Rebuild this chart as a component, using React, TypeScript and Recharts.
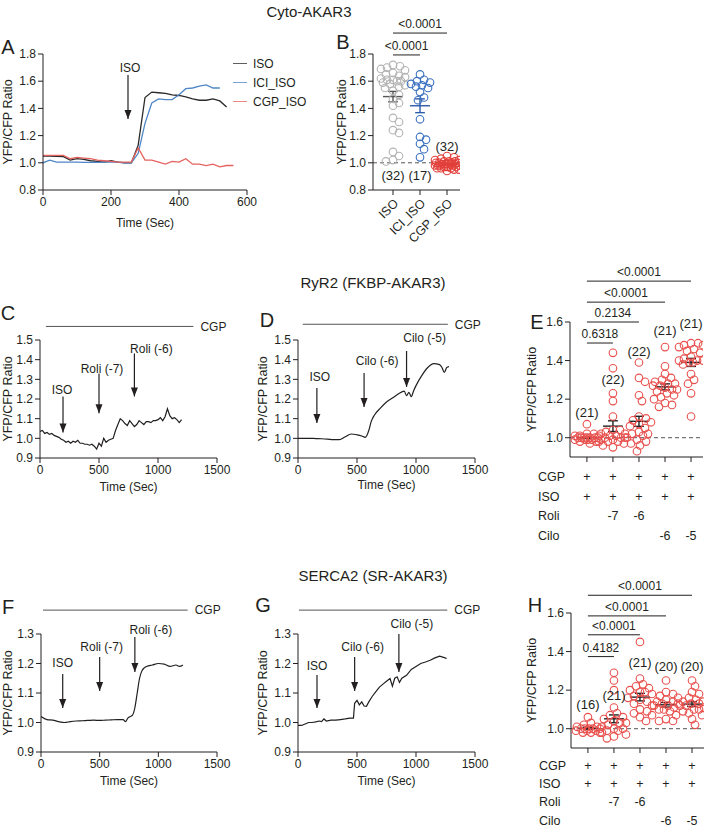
import React from 'react';
import {
  LineChart, Line, ScatterChart, Scatter, XAxis, YAxis,
  ReferenceLine, ReferenceDot, Legend,
} from 'recharts';

const FONT = 'Arial, "Liberation Sans", Helvetica, sans-serif';
const INK = '#231f20';
const RED = '#e8504d';
const Y_W = 48;

// ---------- A: Cyto-AKAR3 time course ----------
const aTime = [0, 20, 40, 60, 80, 100, 120, 140, 160, 180, 200, 220, 240, 260, 280, 300, 320, 340, 360, 380, 400, 420, 440, 460, 480, 500, 520, 540, 560];
const aIso = [1.05, 1.05, 1.048, 1.045, 1.02, 1.03, 1.025, 1.015, 1.01, 1.005, 1.015, 1.005, 1.0, 1.0, 1.13, 1.48, 1.52, 1.515, 1.51, 1.5, 1.495, 1.485, 1.47, 1.46, 1.46, 1.47, 1.455, 1.41, null];
const aIci = [1.0, 1.02, 1.005, 1.005, 1.005, 1.005, 1.003, 1.003, 1.003, 1.005, 1.007, 1.005, 1.0, 1.0, 1.07, 1.29, 1.44, 1.47, 1.465, 1.465, 1.5, 1.545, 1.55, 1.563, 1.573, 1.55, 1.55, null, null];
const aCgp = [1.055, 1.055, 1.055, 1.055, 1.03, 1.04, 1.035, 1.03, 1.02, 1.015, 1.01, 1.005, 1.005, 1.005, 1.11, 1.02, 1.02, 1.005, 0.99, 1.01, 1.005, 1.03, 0.99, 0.99, 0.98, 0.99, 0.97, 0.98, 0.98];
const aNames = ['ISO', 'ICI_ISO', 'CGP_ISO'];
const aColors = ['#2a2a2a', '#4f86c6', '#e5625e'];

// ---------- B: Cyto-AKAR3 summary ----------
const bGroups = ['ISO', 'ICI_ISO', 'CGP_ISO'];
const bIso = [1.72, 1.71, 1.70, 1.69, 1.68, 1.66, 1.65, 1.64, 1.63, 1.62, 1.61, 1.61, 1.60, 1.60, 1.59, 1.58, 1.57, 1.56, 1.55, 1.53, 1.50, 1.47, 1.44, 1.42, 1.33, 1.30, 1.24, 1.22, 1.08, 1.05, 1.02, 1.01];
const bIci = [1.65, 1.61, 1.60, 1.59, 1.58, 1.57, 1.56, 1.55, 1.52, 1.48, 1.46, 1.32, 1.19, 1.17, 1.14, 1.10, 1.04];
const bCgp = [1.05, 1.04, 1.03, 1.02, 1.02, 1.01, 1.01, 1.01, 1.00, 1.00, 1.00, 1.00, 0.99, 0.99, 0.99, 0.99, 0.99, 0.98, 0.98, 0.98, 0.98, 0.98, 0.97, 0.97, 0.97, 0.97, 0.96, 0.96, 0.96, 0.95, 0.95, 0.94];
const bPvals = ['<0.0001', '<0.0001'];

// ---------- C, D: RyR2 (FKBP-AKAR3) traces ----------
const cTime = [0, 20, 40, 60, 80, 100, 120, 140, 160, 180, 200, 220, 240, 260, 280, 300, 320, 340, 360, 380, 400, 420, 440, 460, 480, 500, 520, 540, 560, 580, 600, 620, 640, 660, 680, 700, 720, 740, 760, 780, 800, 820, 840, 860, 880, 900, 920, 940, 960, 980, 1000, 1020, 1040, 1060, 1080, 1100, 1120, 1140, 1160, 1180, 1200];
const cRatio = [1.035, 1.04, 1.025, 1.03, 1.02, 1.025, 1.015, 1.01, 1.005, 0.995, 0.99, 0.98, 0.985, 0.975, 0.985, 0.98, 0.99, 0.975, 0.975, 0.97, 0.97, 0.965, 0.97, 0.96, 0.945, 0.975, 0.96, 1.0, 0.98, 0.99, 0.995, 1.0, 1.04, 1.07, 1.10, 1.09, 1.075, 1.065, 1.09, 1.075, 1.06, 1.07, 1.09, 1.08, 1.07, 1.085, 1.085, 1.08, 1.09, 1.09, 1.095, 1.105, 1.09, 1.11, 1.15, 1.115, 1.1, 1.105, 1.095, 1.08, 1.095];
const dTime = [0, 50, 100, 150, 200, 250, 300, 350, 400, 450, 500, 540, 570, 600, 620, 650, 700, 750, 800, 850, 900, 920, 940, 960, 980, 1000, 1050, 1100, 1150, 1200, 1220, 1240, 1260, 1280];
const dRatio = [1.0, 1.0, 1.0, 0.999, 0.998, 0.996, 0.993, 0.993, 1.008, 1.022, 1.018, 1.012, 1.005, 1.04, 1.085, 1.12, 1.155, 1.185, 1.205, 1.225, 1.24, 1.217, 1.234, 1.212, 1.242, 1.268, 1.32, 1.36, 1.38, 1.375, 1.36, 1.335, 1.36, 1.365];

// ---------- F, G: SERCA2 (SR-AKAR3) traces ----------
const fTime = [0, 50, 100, 150, 200, 250, 300, 350, 400, 450, 500, 550, 600, 650, 700, 720, 740, 760, 780, 800, 820, 840, 860, 880, 900, 950, 1000, 1050, 1100, 1150, 1180, 1210];
const fRatio = [1.02, 1.01, 1.008, 1.003, 1.0, 1.003, 1.005, 1.006, 1.007, 1.008, 1.007, 1.008, 1.009, 1.01, 1.01, 1.003, 1.015, 1.02, 1.025, 1.05, 1.10, 1.15, 1.175, 1.185, 1.19, 1.195, 1.2, 1.198, 1.19, 1.195, 1.19, 1.195];
const gTime = [0, 30, 60, 90, 120, 150, 180, 200, 220, 240, 280, 320, 360, 400, 440, 470, 480, 500, 520, 540, 560, 580, 600, 630, 660, 690, 720, 750, 780, 800, 820, 840, 860, 880, 920, 960, 1000, 1040, 1080, 1120, 1160, 1200, 1240, 1260];
const gRatio = [0.99, 0.99, 0.995, 1.0, 1.0, 1.002, 1.005, 1.003, 1.012, 1.005, 1.008, 1.008, 1.01, 1.012, 1.015, 1.015, 1.065, 1.075, 1.06, 1.07, 1.056, 1.055, 1.07, 1.089, 1.105, 1.12, 1.13, 1.14, 1.149, 1.123, 1.15, 1.155, 1.136, 1.15, 1.16, 1.18, 1.19, 1.2, 1.205, 1.211, 1.219, 1.225, 1.22, 1.217];

// ---------- E, H: summaries ----------
const treatRows = ['CGP', 'ISO', 'Roli', 'Cilo'];
const treatCols = [['+', '+', '', ''], ['+', '+', '-7', ''], ['+', '+', '-6', ''], ['+', '+', '', '-6'], ['+', '+', '', '-5']];
const eGroups = [
  [1.07, 1.02, 1.02, 1.01, 1.01, 1.01, 1.00, 1.00, 1.00, 1.00, 1.00, 1.00, 1.00, 0.99, 0.99, 0.99, 0.99, 0.98, 0.98, 0.98, 0.97],
  [1.44, 1.36, 1.23, 1.19, 1.11, 1.04, 1.04, 1.03, 1.02, 1.02, 1.01, 1.01, 1.00, 1.00, 1.00, 0.99, 0.99, 0.98, 0.98, 0.97, 0.96, 0.95],
  [1.39, 1.31, 1.29, 1.22, 1.19, 1.11, 1.10, 1.09, 1.08, 1.07, 1.06, 1.05, 1.03, 1.02, 1.02, 1.01, 1.00, 0.99, 0.98, 0.97, 0.96, 0.93],
  [1.47, 1.37, 1.33, 1.31, 1.30, 1.29, 1.28, 1.28, 1.27, 1.27, 1.26, 1.25, 1.25, 1.24, 1.23, 1.22, 1.21, 1.20, 1.18, 1.17, 1.16],
  [1.49, 1.49, 1.48, 1.48, 1.47, 1.46, 1.45, 1.44, 1.42, 1.41, 1.40, 1.40, 1.40, 1.39, 1.39, 1.38, 1.33, 1.30, 1.28, 1.23, 1.11],
];
const ePvals = ['0.6318', '0.2134', '<0.0001', '<0.0001'];
const hGroups = [
  [1.06, 1.03, 1.02, 1.01, 1.01, 1.00, 1.00, 1.00, 1.00, 1.00, 0.99, 0.99, 0.99, 0.98, 0.98, 0.98],
  [1.29, 1.25, 1.20, 1.11, 1.08, 1.07, 1.06, 1.05, 1.04, 1.03, 1.03, 1.02, 1.01, 1.00, 1.00, 0.99, 0.99, 0.98, 0.97, 0.96, 0.95],
  [1.45, 1.26, 1.23, 1.22, 1.21, 1.20, 1.19, 1.19, 1.18, 1.17, 1.16, 1.15, 1.14, 1.13, 1.12, 1.10, 1.09, 1.08, 1.07, 1.06, 1.04],
  [1.25, 1.19, 1.18, 1.17, 1.16, 1.15, 1.14, 1.14, 1.13, 1.13, 1.12, 1.12, 1.11, 1.10, 1.10, 1.09, 1.07, 1.05, 1.04, 1.04],
  [1.25, 1.22, 1.19, 1.18, 1.16, 1.15, 1.14, 1.14, 1.13, 1.13, 1.12, 1.12, 1.11, 1.10, 1.10, 1.09, 1.08, 1.07, 1.05, 1.02],
];
const hPvals = ['0.4182', '<0.0001', '<0.0001', '<0.0001'];

// ---------- annotation placement (drug additions, bars, labels) ----------
const aArrows = [{ t: 250, label: 'ISO', top: 1.646, tip: 1.322, textY: 1.697, dx: 2 }];
const cArrows = [
  { t: 195, label: 'ISO', top: 1.213, tip: 1.03, textY: 1.249, dx: -1 },
  { t: 500, label: 'Roli (-7)', top: 1.33, tip: 1.127, textY: 1.355, dx: 3 },
  { t: 800, label: 'Roli (-6)', top: 1.431, tip: 1.213, textY: 1.457, dx: 17 },
];
const dArrows = [
  { t: 160, label: 'ISO', top: 1.256, tip: 1.078, textY: 1.312, dx: 3 },
  { t: 560, label: 'Cilo (-6)', top: 1.332, tip: 1.159, textY: 1.393, dx: 13 },
  { t: 920, label: 'Cilo (-5)', top: 1.444, tip: 1.261, textY: 1.51, dx: 18 },
];
const fArrows = [
  { t: 185, label: 'ISO', top: 1.164, tip: 1.049, textY: 1.202, dx: 0 },
  { t: 500, label: 'Roli (-7)', top: 1.222, tip: 1.107, textY: 1.256, dx: 2 },
  { t: 800, label: 'Roli (-6)', top: 1.29, tip: 1.171, textY: 1.314, dx: 16 },
];
const gArrows = [
  { t: 161, label: 'ISO', top: 1.161, tip: 1.049, textY: 1.192, dx: 0 },
  { t: 480, label: 'Cilo (-6)', top: 1.222, tip: 1.107, textY: 1.256, dx: 8 },
  { t: 855, label: 'Cilo (-5)', top: 1.3, tip: 1.171, textY: 1.334, dx: 13 },
];

// ---------- helpers ----------
const tick = { fontSize: 12, fill: INK, fontFamily: FONT };
const fmt1 = (v: number) => v.toFixed(1);

function yAxisFor(domain: number[], ticks: number[], gap: number, key = 'v') {
  return (
    <YAxis type="number" dataKey={key} domain={domain} ticks={ticks} interval={0} width={Y_W}
      allowDataOverflow axisLine={{ stroke: INK }} tickLine={{ stroke: INK }} tickSize={5}
      tick={tick} tickFormatter={fmt1}
      label={{
        value: 'YFP/CFP Ratio', angle: -90, position: 'insideLeft', offset: Y_W - gap,
        style: { textAnchor: 'middle', fontSize: 12.5, fill: INK, fontFamily: FONT },
      }} />
  );
}

const textAt = (label: string, dx = 0, size = 12) => (p: any) => (
  <text x={p.cx + dx} y={p.cy} dy="0.35em" textAnchor="middle" fontSize={size} fontFamily={FONT} fill={INK}>{label}</text>
);

const arrowHead = (p: any) => (
  <path d={`M${p.cx - 3.5},${p.cy - 9}L${p.cx + 3.5},${p.cy - 9}L${p.cx},${p.cy}Z`} fill={INK} />
);

const ring = (color: string) => (p: any) => (
  <circle cx={p.cx} cy={p.cy} r={3.8} fill="none" stroke={color} strokeWidth={1.1} />
);

function arrowMarks(arrows: any[], key: string) {
  return arrows.flatMap((a, i) => [
    <ReferenceLine key={`${key}s${i}`} segment={[{ x: a.t, y: a.top }, { x: a.t, y: a.tip }]}
      stroke={INK} strokeWidth={1.2} ifOverflow="visible" />,
    <ReferenceDot key={`${key}h${i}`} x={a.t} y={a.tip} r={4} ifOverflow="visible" shape={arrowHead} />,
    <ReferenceDot key={`${key}t${i}`} x={a.t} y={a.textY} r={4} ifOverflow="visible" shape={textAt(a.label, a.dx)} />,
  ]);
}

// simple deterministic beeswarm: horizontal offsets so rings don't pile up
function swarm(values: number[], pxY: number, pxX: number, minDist = 6.5, maxOff = 12) {
  const placed: { dx: number; py: number }[] = [];
  return values.map((v) => {
    const py = v * pxY;
    let best = 0;
    let bestD = -1;
    for (let k = 0; k <= maxOff * 2; k++) {
      const dx = k % 2 ? (k + 1) / 2 : -k / 2;
      let d = Infinity;
      for (const p of placed) d = Math.min(d, Math.hypot(p.dx - dx, p.py - py));
      if (d >= minDist) { best = dx; break; }
      if (d > bestD) { bestD = d; best = dx; }
    }
    placed.push({ dx: best, py });
    return best / pxX;
  });
}

function meanMarks(groups: number[][], colors: string[], halfW: number, capW: number, key: string) {
  return groups.flatMap((v, i) => {
    const m = v.reduce((a, b) => a + b, 0) / v.length;
    const sd = Math.sqrt(v.reduce((a, b) => a + (b - m) ** 2, 0) / (v.length - 1));
    const se = sd / Math.sqrt(v.length);
    const seg = (x1: number, y1: number, x2: number, y2: number, k: string) => (
      <ReferenceLine key={`${key}${i}${k}`} segment={[{ x: x1, y: y1 }, { x: x2, y: y2 }]}
        stroke={colors[i]} strokeWidth={1.4} ifOverflow="visible" />
    );
    return [
      seg(i - halfW, m, i + halfW, m, 'm'),
      seg(i, m - se, i, m + se, 'e'),
      seg(i - capW, m + se, i + capW, m + se, 'u'),
      seg(i - capW, m - se, i + capW, m - se, 'd'),
    ];
  });
}

function sigMarks(pvals: string[], ys: number[], key: string) {
  return pvals.map((p, i) => (
    <ReferenceLine key={`${key}${i}`} segment={[{ x: 0, y: ys[i] }, { x: i + 1, y: ys[i] }]}
      stroke={INK} strokeWidth={1} ifOverflow="visible"
      label={{ value: p, position: 'top', offset: 5, fontSize: 12, fill: INK, fontFamily: FONT }} />
  ));
}

function nMarks(groups: number[][], ys: number[], key: string) {
  return groups.map((g, i) => (
    <ReferenceDot key={`${key}${i}`} x={i} y={ys[i]} r={3} ifOverflow="visible" shape={textAt(`(${g.length})`, 0, 13)} />
  ));
}

const Tag = ({ x, y, size, children }: any) => (
  <div style={{
    position: 'absolute', left: x, top: y, transform: 'translate(-50%, -50%)', fontSize: size,
    lineHeight: 1, whiteSpace: 'nowrap', fontFamily: FONT, color: INK,
  }}>{children}</div>
);

// ---------- panels ----------
function PanelA() {
  const left = 43, top = 54, w = 204, h = 136, mt = 30, mr = 80, xh = 45;
  const rows = aTime.map((t, i) => ({ t, iso: aIso[i], ici: aIci[i], cgp: aCgp[i] }));
  const keys = ['iso', 'ici', 'cgp'];
  return (
    <div style={{ position: 'absolute', left: left - Y_W, top: top - mt }}>
      <LineChart width={Y_W + w + mr} height={mt + h + xh} data={rows} margin={{ top: mt, right: mr, bottom: 0, left: 0 }}>
        <XAxis type="number" dataKey="t" domain={[0, 600]} ticks={[0, 200, 400, 600]} interval={0} height={xh}
          allowDataOverflow axisLine={{ stroke: INK }} tickLine={{ stroke: INK }} tickSize={5} tick={tick}
          label={{ value: 'Time (Sec)', position: 'insideBottom', offset: xh - 37, style: { fontSize: 12, fill: INK, fontFamily: FONT } }} />
        {yAxisFor([0.8, 1.8], [0.8, 1.0, 1.2, 1.4, 1.6, 1.8], 35, 'iso')}
        {keys.map((k, i) => (
          <Line key={k} type="linear" dataKey={k} name={aNames[i]} stroke={aColors[i]} strokeWidth={1.3}
            dot={false} legendType="plainline" isAnimationActive={false} />
        ))}
        {arrowMarks(aArrows, 'aa')}
        <Legend layout="vertical" align="center" verticalAlign="middle"
          wrapperStyle={{ left: 238, top: 30, width: 90 }}
          content={(props: any) => {
            const items = [...(props.payload || [])].sort(
              (a: any, b: any) => aNames.indexOf(a.value) - aNames.indexOf(b.value));
            return (
              <div>
                {items.map((e: any) => (
                  <div key={e.value} style={{ display: 'flex', alignItems: 'center', height: 19, fontSize: 12, fontFamily: FONT, color: INK }}>
                    <span style={{ display: 'inline-block', width: 14, borderTop: `1.3px solid ${e.color}`, opacity: 0.75, marginRight: 6 }} />
                    {e.value}
                  </div>
                ))}
              </div>
            );
          }} />
      </LineChart>
    </div>
  );
}

function PanelB() {
  const left = 373, top = 54, w = 87, h = 136, mt = 50, mr = 10, xh = 60;
  const groups = [bIso, bIci, bCgp];
  const ringColors = ['#b3b3b3', '#3a70c0', '#e3403b'];
  const meanColors = ['#555555', '#2a5caa', '#b02a26'];
  const rotTick = (p: any) => {
    const ax = p.x + 3, ay = p.y + 4;
    return (
      <text x={ax} y={ay} dy="0.35em" textAnchor="end" transform={`rotate(-45 ${ax} ${ay})`}
        fontSize={12.5} fontFamily={FONT} fill={INK}>{bGroups[p.payload.value]}</text>
    );
  };
  return (
    <div style={{ position: 'absolute', left: left - Y_W, top: top - mt }}>
      <ScatterChart width={Y_W + w + mr} height={mt + h + xh} margin={{ top: mt, right: mr, bottom: 0, left: 0 }}>
        <XAxis type="number" dataKey="x" domain={[-0.74, 2.48]} ticks={[0, 1, 2]} interval={0} height={xh}
          allowDataOverflow axisLine={{ stroke: INK }} tickLine={{ stroke: INK }} tickSize={5} tick={rotTick} />
        {yAxisFor([0.8, 1.8], [0.8, 1.0, 1.2, 1.4, 1.6, 1.8], 31, 'y')}
        <ReferenceLine y={1} stroke="#555" strokeDasharray="4 3" />
        {groups.map((vals, i) => {
          const off = swarm(vals, 136, 27);
          return (
            <Scatter key={i} data={vals.map((y, j) => ({ x: i + off[j], y }))} shape={ring(ringColors[i])} isAnimationActive={false} />
          );
        })}
        {meanMarks(groups, meanColors, 0.37, 0.18, 'bm')}
        {sigMarks(bPvals, [1.793, 1.954], 'bs')}
        {nMarks(groups, [0.91, 0.91, 1.12], 'bn')}
      </ScatterChart>
    </div>
  );
}

function TracePanel({ left, top, w, h, yDomain, yTicks, times, ratio, curve, arrows, cgp, yGap, xGap, id }: any) {
  const mt = 50, mr = 45, xh = 45;
  const data = times.map((t: number, i: number) => ({ t, v: ratio[i] }));
  return (
    <div style={{ position: 'absolute', left: left - Y_W, top: top - mt }}>
      <LineChart width={Y_W + w + mr} height={mt + h + xh} data={data} margin={{ top: mt, right: mr, bottom: 0, left: 0 }}>
        <XAxis type="number" dataKey="t" domain={[0, 1500]} ticks={[0, 500, 1000, 1500]} interval={0} height={xh}
          allowDataOverflow axisLine={{ stroke: INK }} tickLine={{ stroke: INK }} tickSize={5} tick={tick}
          label={{ value: 'Time (Sec)', position: 'insideBottom', offset: xh - xGap - 4, style: { fontSize: 12, fill: INK, fontFamily: FONT } }} />
        {yAxisFor(yDomain, yTicks, yGap)}
        <Line type={curve} dataKey="v" stroke={INK} strokeWidth={1.2} dot={false} isAnimationActive={false} />
        <ReferenceLine segment={[{ x: cgp.from, y: cgp.y }, { x: cgp.to, y: cgp.y }]} stroke="#555" strokeWidth={1}
          ifOverflow="visible" label={{ value: 'CGP', position: 'right', offset: 7, fontSize: 12, fill: INK, fontFamily: FONT }} />
        {arrowMarks(arrows, id)}
      </LineChart>
    </div>
  );
}

function DotPanel({ left, top, groups, pvals, sigY, nY, yGap, rowStart, rowStep, id }: any) {
  const w = 133, h = 135, mt = 62, mr = 6, xh = 92;
  const tableTick = (p: any) => {
    const col = treatCols[p.payload.value] || [];
    return (
      <g>
        {col.map((c: string, r: number) => (
          <text key={r} x={p.x} y={p.y + rowStart + r * rowStep} dy="0.35em" textAnchor="middle" fontSize={12.5} fontFamily={FONT} fill={INK}>{c}</text>
        ))}
        {p.payload.value === 0 && treatRows.map((r, i) => (
          <text key={`l${i}`} x={p.x - 49} y={p.y + rowStart + i * rowStep} dy="0.35em" textAnchor="start" fontSize={12.5} fontFamily={FONT} fill={INK}>{r}</text>
        ))}
      </g>
    );
  };
  return (
    <div style={{ position: 'absolute', left: left - Y_W, top: top - mt }}>
      <ScatterChart width={Y_W + w + mr} height={mt + h + xh} margin={{ top: mt, right: mr, bottom: 0, left: 0 }}>
        <XAxis type="number" dataKey="x" domain={[-0.65, 4.46]} ticks={[0, 1, 2, 3, 4]} interval={0} height={xh}
          allowDataOverflow axisLine={{ stroke: INK }} tickLine={{ stroke: INK }} tickSize={5} tick={tableTick} />
        {yAxisFor([0.9, 1.6], [1.0, 1.2, 1.4, 1.6], yGap, 'y')}
        <ReferenceLine y={1} stroke="#555" strokeDasharray="4 3" />
        {groups.map((vals: number[], i: number) => {
          const off = swarm(vals, 193, 26);
          return (
            <Scatter key={i} data={vals.map((y, j) => ({ x: i + off[j], y }))} shape={ring(RED)} isAnimationActive={false} />
          );
        })}
        {meanMarks(groups, ['#222', '#222', '#222', '#222', '#222'], 0.38, 0.19, `${id}m`)}
        {sigMarks(pvals, sigY, `${id}s`)}
        {nMarks(groups, nY, `${id}n`)}
      </ScatterChart>
    </div>
  );
}

export default function App() {
  return (
    <div style={{ position: 'absolute', left: 0, top: 0, width: 710, height: 830, overflow: 'hidden', background: '#fff', fontFamily: FONT, color: INK }}>
      <Tag x={309} y={11} size={15}>Cyto-AKAR3</Tag>
      <Tag x={373} y={282} size={15}>RyR2 (FKBP-AKAR3)</Tag>
      <Tag x={373} y={575} size={15}>SERCA2 (SR-AKAR3)</Tag>

      <PanelA />
      <PanelB />
      <TracePanel id="c" left={40} top={340} w={177} h={118} yDomain={[0.9, 1.5]} yTicks={[0.9, 1.0, 1.1, 1.2, 1.3, 1.4, 1.5]}
        times={cTime} ratio={cRatio} curve="linear" arrows={cArrows} cgp={{ from: 50, to: 1300, y: 1.569 }} yGap={32} xGap={29} />
      <TracePanel id="d" left={298} top={340} w={177} h={118} yDomain={[0.9, 1.5]} yTicks={[0.9, 1.0, 1.1, 1.2, 1.3, 1.4, 1.5]}
        times={dTime} ratio={dRatio} curve="monotone" arrows={dArrows} cgp={{ from: 40, to: 1270, y: 1.58 }} yGap={35} xGap={27} />
      <DotPanel id="e" left={570} top={322} groups={eGroups} pvals={ePvals} sigY={[1.491, 1.6, 1.703, 1.812]}
        nY={[1.133, 1.304, 1.449, 1.558, 1.594]} yGap={38} rowStart={12.5} rowStep={19.7} />
      <TracePanel id="f" left={41} top={634} w={176} h={118} yDomain={[0.9, 1.3]} yTicks={[0.9, 1.0, 1.1, 1.2, 1.3]}
        times={fTime} ratio={fRatio} curve="monotone" arrows={fArrows} cgp={{ from: 17, to: 1250, y: 1.381 }} yGap={33} xGap={29} />
      <TracePanel id="g" left={298} top={634} w={177} h={118} yDomain={[0.9, 1.3]} yTicks={[0.9, 1.0, 1.1, 1.2, 1.3]}
        times={gTime} ratio={gRatio} curve="linear" arrows={gArrows} cgp={{ from: 8, to: 1265, y: 1.381 }} yGap={35} xGap={29} />
      <DotPanel id="h" left={571} top={613} groups={hGroups} pvals={hPvals} sigY={[1.374, 1.487, 1.585, 1.692]}
        nY={[1.128, 1.174, 1.344, 1.323, 1.323]} yGap={39} rowStart={10.5} rowStep={18.3} />

      <Tag x={8} y={47} size={20}>A</Tag>
      <Tag x={343} y={42} size={20}>B</Tag>
      <Tag x={8} y={313} size={20}>C</Tag>
      <Tag x={267} y={320} size={20}>D</Tag>
      <Tag x={537} y={322} size={20}>E</Tag>
      <Tag x={8} y={607} size={20}>F</Tag>
      <Tag x={263} y={605} size={20}>G</Tag>
      <Tag x={535} y={605} size={20}>H</Tag>
    </div>
  );
}
